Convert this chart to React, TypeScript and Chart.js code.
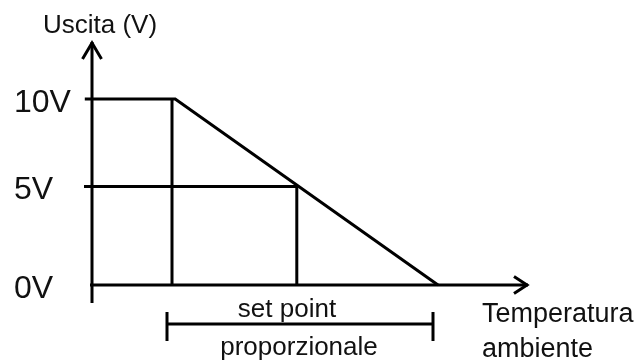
import React, { useEffect, useRef } from "react";
import Chart from "chart.js/auto";

// ---- data (abstract units: x = temperature, y = output volts) ----
const levelValues = [10, 5.3, 0];
const levelLabels = ["10V", "5V", "0V"];
const yAxisTitle = "Uscita (V)";
const xAxisTitle = ["Temperatura", "ambiente"];
const bandLabels = ["set point", "proporzionale"];

const yAxisRange = [-0.97, 13.06]; // y axis line from/to (arrow at top)
const xAxisRange = [-0.05, 10.9]; // x axis line from/to (arrow at right)

const profileX = [-0.18, 2.08, 8.65];
const profileY = [10, 10, 0];

const setPointStartX = [2, 2];
const setPointStartY = [10, 0];

const midX = [-0.2, 5.12, 5.12];
const midY = [5.3, 5.3, 0];

const bandStart = 1.875;
const bandEnd = 8.525;
const bandY = -2.1;
const bandCapY = [-1.45, -3.01];

const FONT = '"Liberation Sans", Arial, sans-serif';
const INK = "#000000";
const TEXT = "#111111";

const pts = (xs: number[], ys: number[]) => xs.map((x, i) => ({ x, y: ys[i] }));

const lineDs = (data: { x: number; y: number }[]) => ({
  data,
  borderColor: INK,
  borderWidth: 3,
  pointRadius: 0,
  showLine: true,
  fill: false,
  tension: 0,
  clip: false as any,
  borderJoinStyle: "miter" as const,
});

export default function App() {
  const ref = useRef<HTMLCanvasElement | null>(null);

  useEffect(() => {
    document.body.style.margin = "0";
    const canvas = ref.current;
    if (!canvas) return;

    const annotate = {
      id: "annotate",
      afterDatasetsDraw(chart: any) {
        const { ctx } = chart;
        const xs = chart.scales.x;
        const ys = chart.scales.y;
        const px = (v: number) => xs.getPixelForValue(v);
        const py = (v: number) => ys.getPixelForValue(v);
        ctx.save();
        ctx.strokeStyle = INK;
        ctx.lineWidth = 3;
        ctx.lineJoin = "miter";
        // y arrow head
        const tx = px(0);
        const ty = py(yAxisRange[1]);
        ctx.beginPath();
        ctx.moveTo(tx - 9.5, ty + 17);
        ctx.lineTo(tx, ty + 1);
        ctx.lineTo(tx + 9.5, ty + 17);
        ctx.stroke();
        // x arrow head
        const ax = px(xAxisRange[1]);
        const ay = py(0);
        ctx.beginPath();
        ctx.moveTo(ax - 14, ay - 8.5);
        ctx.lineTo(ax - 1, ay);
        ctx.lineTo(ax - 14, ay + 8.5);
        ctx.stroke();

        ctx.fillStyle = TEXT;
        ctx.textBaseline = "alphabetic";
        // y title
        ctx.font = `26px ${FONT}`;
        ctx.textAlign = "center";
        ctx.fillText(yAxisTitle, tx + 8, ty - 9);
        // level labels
        ctx.font = `32px ${FONT}`;
        ctx.textAlign = "left";
        levelLabels.forEach((lab, i) => {
          ctx.fillText(lab, tx - 78, py(levelValues[i]) + 13);
        });
        // band labels
        ctx.font = `26px ${FONT}`;
        ctx.textAlign = "center";
        const bc = (px(bandStart) + px(bandEnd)) / 2;
        ctx.fillText(bandLabels[0], bc - 13, py(bandY) - 7);
        ctx.fillText(bandLabels[1], bc - 1, py(bandY) + 31);
        // x title
        ctx.font = `27px ${FONT}`;
        ctx.textAlign = "left";
        ctx.fillText(xAxisTitle[0], ax - 46, ay + 37);
        ctx.fillText(xAxisTitle[1], ax - 46, ay + 72);
        ctx.restore();
      },
    };

    const chart = new Chart(canvas, {
      type: "scatter",
      data: {
        datasets: [
          lineDs(pts([0, 0], yAxisRange)),
          lineDs(pts(xAxisRange, [0, 0])),
          lineDs(pts(profileX, profileY)),
          lineDs(pts(setPointStartX, setPointStartY)),
          lineDs(pts(midX, midY)),
          lineDs(pts([bandStart, bandStart], bandCapY)),
          lineDs(pts([bandStart, bandEnd], [bandY, bandY])),
          lineDs(pts([bandEnd, bandEnd], bandCapY)),
        ],
      },
      options: {
        animation: false,
        responsive: true,
        maintainAspectRatio: false,
        layout: { padding: { top: 40, bottom: 0, left: 0, right: 0 } },
        plugins: { legend: { display: false }, tooltip: { enabled: false } },
        events: [],
        scales: {
          x: { type: "linear", min: -2.3, max: 13.65, display: false },
          y: { type: "linear", min: -4.19, max: 13.17, display: false },
        },
      },
      plugins: [annotate],
    });
    return () => chart.destroy();
  }, []);

  return (
    <div style={{ width: 638, height: 363, position: "relative", background: "#fff" }}>
      <canvas ref={ref} />
    </div>
  );
}
